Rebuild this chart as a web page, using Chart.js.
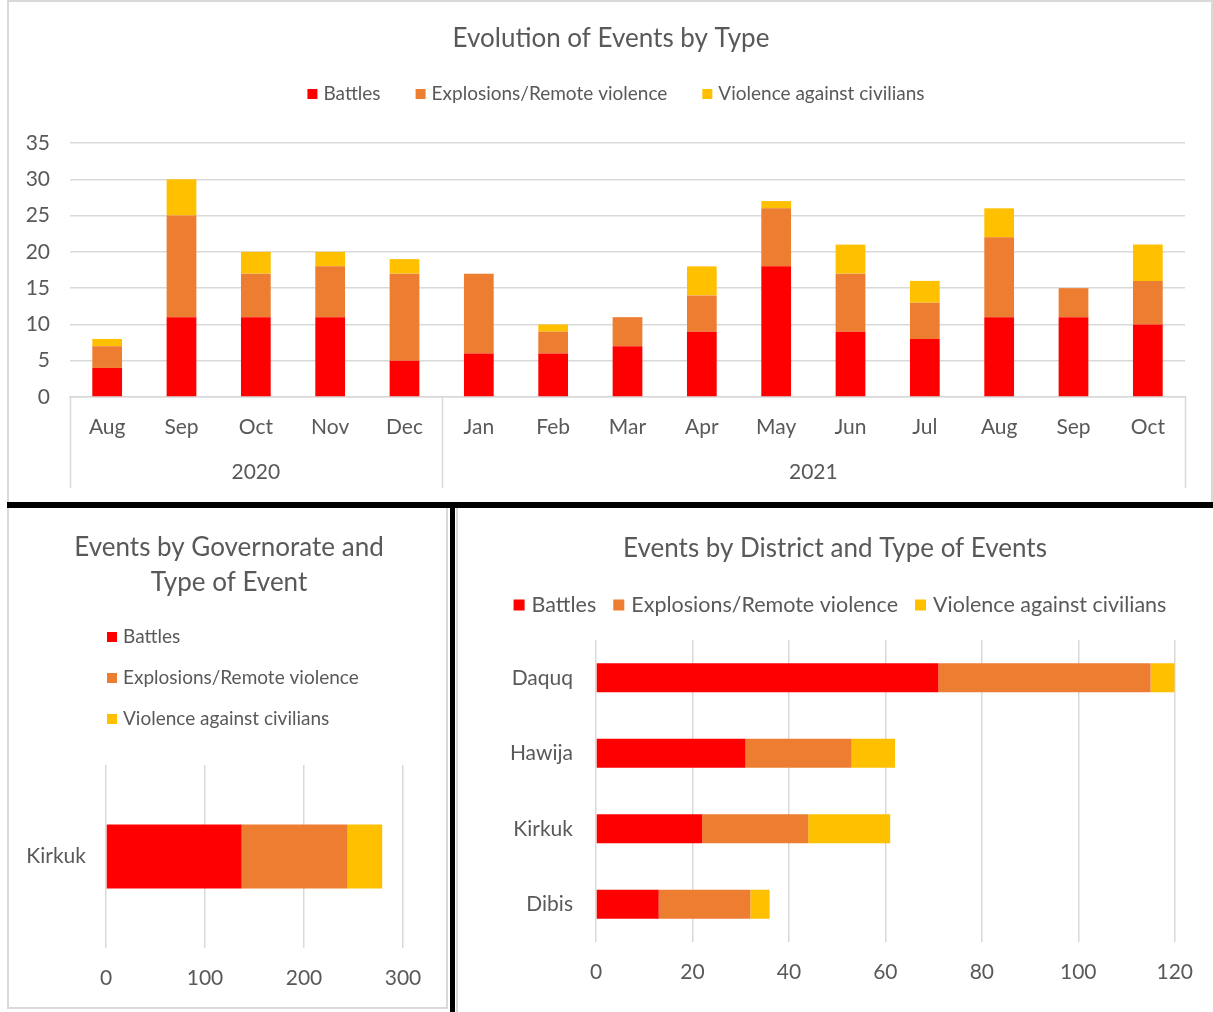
<!DOCTYPE html>
<html>
<head>
<meta charset="utf-8">
<script src="https://cdn.jsdelivr.net/npm/chart.js@4/dist/chart.umd.min.js"></script>
<style>
  html, body { margin: 0; padding: 0; background: #ffffff; }
  body { width: 1213px; height: 1012px; position: relative; overflow: hidden; font-family: Lato, sans-serif; }
  .box { position: absolute; box-sizing: border-box; }
  canvas { position: absolute; }
</style>
</head>
<body>
<div class="box" style="left:7px;top:0;width:1206px;height:503px;border:2px solid #d9d9d9;border-bottom:none;"></div>
<div class="box" style="left:7px;top:508px;width:441px;height:501px;border:2px solid #d9d9d9;border-top:none;"></div>
<div class="box" style="left:456px;top:508px;width:757px;height:504px;border-left:2px solid #d9d9d9;"></div>
<div class="box" style="left:7px;top:502px;width:1206px;height:6px;background:#000;"></div>
<div class="box" style="left:450px;top:505px;width:5px;height:507px;background:#000;"></div>

<canvas id="c1" style="left:9px;top:2px;"></canvas>
<canvas id="c2" style="left:9px;top:510px;"></canvas>
<canvas id="c3" style="left:459px;top:510px;"></canvas>

<script>
// ---------------- DATA ----------------
const seriesNames = ['Battles', 'Explosions/Remote violence', 'Violence against civilians'];

// Evolution of events by type (monthly)
const months = ['Aug', 'Sep', 'Oct', 'Nov', 'Dec', 'Jan', 'Feb', 'Mar', 'Apr', 'May', 'Jun', 'Jul', 'Aug', 'Sep', 'Oct'];
const yearLabels = ['2020', '2021'];
const yearMonthCounts = [5, 10];
const monthlyBattles    = [4, 11, 11, 11, 5, 6, 6, 7, 9, 18, 9, 8, 11, 11, 10];
const monthlyExplosions = [3, 14, 6, 7, 12, 11, 3, 4, 5, 8, 8, 5, 11, 4, 6];
const monthlyViolence   = [1, 5, 3, 2, 2, 0, 1, 0, 4, 1, 4, 3, 4, 0, 5];

// Events by governorate
const governorates = ['Kirkuk'];
const govBattles    = [137];
const govExplosions = [107];
const govViolence   = [35];

// Events by district
const districts = ['Daquq', 'Hawija', 'Kirkuk', 'Dibis'];
const distBattles    = [71, 31, 22, 13];
const distExplosions = [44, 22, 22, 19];
const distViolence   = [5, 9, 17, 4];

// ---------------- STYLE ----------------
const COLORS = ['#FF0000', '#ED7D31', '#FFC000'];
const TEXT = '#595959';
const GRID = '#d9d9d9';
const FONT = 'Lato, "Open Sans", sans-serif';

Chart.defaults.font.family = FONT;
Chart.defaults.color = TEXT;
Chart.defaults.animation = false;

function makeDatasets(arrs) {
  return arrs.map((d, i) => ({
    label: seriesNames[i],
    data: d,
    backgroundColor: COLORS[i],
    borderWidth: 0
  }));
}

const panelTitle = {
  id: 'panelTitle',
  afterDraw(chart, args, o) {
    const ctx = chart.ctx;
    ctx.save();
    ctx.font = o.size + 'px ' + FONT;
    ctx.fillStyle = TEXT;
    ctx.textAlign = 'center';
    ctx.textBaseline = 'middle';
    o.lines.forEach((t, i) => ctx.fillText(t, o.cx, o.y + i * (o.step || 0)));
    ctx.restore();
  }
};

const customLegend = {
  id: 'customLegend',
  afterDraw(chart, args, o) {
    const ctx = chart.ctx;
    ctx.save();
    ctx.font = o.size + 'px ' + FONT;
    ctx.textBaseline = 'middle';
    ctx.textAlign = 'left';
    const items = chart.data.datasets.map(d => ({ label: d.label, color: d.backgroundColor, w: ctx.measureText(d.label).width }));
    if (o.layout === 'row') {
      const total = items.reduce((s, it) => s + o.box + o.gap + it.w, 0) + o.spacing * (items.length - 1);
      let x = o.cx - total / 2;
      items.forEach(it => {
        ctx.fillStyle = it.color;
        ctx.fillRect(x, o.y - o.box / 2, o.box, o.box);
        ctx.fillStyle = TEXT;
        ctx.fillText(it.label, x + o.box + o.gap, o.y);
        x += o.box + o.gap + it.w + o.spacing;
      });
    } else {
      items.forEach((it, i) => {
        const y = o.y + i * o.step;
        ctx.fillStyle = it.color;
        ctx.fillRect(o.x, y - o.box / 2, o.box, o.box);
        ctx.fillStyle = TEXT;
        ctx.fillText(it.label, o.x + o.box + o.gap, y);
      });
    }
    ctx.restore();
  }
};

const groupAxis = {
  id: 'groupAxis',
  afterDraw(chart, args, o) {
    const xs = chart.scales.x, ctx = chart.ctx, area = chart.chartArea;
    const half = (xs.getPixelForValue(1) - xs.getPixelForValue(0)) / 2;
    ctx.save();
    ctx.strokeStyle = GRID;
    ctx.lineWidth = 1.5;
    ctx.font = o.size + 'px ' + FONT;
    ctx.fillStyle = TEXT;
    ctx.textAlign = 'center';
    ctx.textBaseline = 'middle';
    let start = 0;
    const edges = [xs.getPixelForValue(0) - half];
    yearLabels.forEach((lab, g) => {
      const end = start + yearMonthCounts[g] - 1;
      const left = xs.getPixelForValue(start) - half;
      const right = xs.getPixelForValue(end) + half;
      edges.push(right);
      ctx.fillText(lab, (left + right) / 2, o.labelY);
      start = end + 1;
    });
    edges.forEach(x => {
      ctx.beginPath();
      ctx.moveTo(Math.round(x) + 0.5, area.bottom);
      ctx.lineTo(Math.round(x) + 0.5, o.lineBottom);
      ctx.stroke();
    });
    ctx.restore();
  }
};

function sizeCanvas(id, w, h) {
  const c = document.getElementById(id);
  c.width = w; c.height = h;
  c.style.width = w + 'px'; c.style.height = h + 'px';
  return c;
}

// ---------------- CHART 1 ----------------
const c1 = sizeCanvas('c1', 1202, 500);
new Chart(c1, {
  type: 'bar',
  data: { labels: months, datasets: makeDatasets([monthlyBattles, monthlyExplosions, monthlyViolence]) },
  options: {
    responsive: false,
    maintainAspectRatio: false,
    datasets: { bar: { categoryPercentage: 0.8, barPercentage: 0.5 } },
    layout: { padding: { top: 141, left: 0, right: 26, bottom: 0 } },
    plugins: {
      legend: { display: false },
      title: { display: false },
      tooltip: { enabled: false },
      panelTitle: { lines: ['Evolution of Events by Type'], cx: 602, y: 37, size: 26 },
      customLegend: { layout: 'row', cx: 607, y: 92, size: 19, box: 10, gap: 6, spacing: 35 },
      groupAxis: { labelY: 470, lineBottom: 486, size: 21 }
    },
    scales: {
      x: {
        stacked: true,
        grid: { display: false, drawTicks: false },
        border: { display: true, color: GRID, width: 1.5 },
        ticks: { font: { size: 21 }, color: TEXT, padding: 18, maxRotation: 0, autoSkip: false },
        afterFit(s) { s.height = 105; }
      },
      y: {
        stacked: true,
        min: 0, max: 35,
        ticks: { stepSize: 5, font: { size: 21 }, color: TEXT, padding: 20 },
        grid: { color: GRID, lineWidth: 1.5, drawTicks: false },
        border: { display: false },
        afterFit(s) { s.width = 61; }
      }
    }
  },
  plugins: [panelTitle, customLegend, groupAxis]
});

// ---------------- CHART 2 ----------------
const c2 = sizeCanvas('c2', 438, 497);
new Chart(c2, {
  type: 'bar',
  data: { labels: governorates, datasets: makeDatasets([govBattles, govExplosions, govViolence]) },
  options: {
    indexAxis: 'y',
    responsive: false,
    maintainAspectRatio: false,
    datasets: { bar: { categoryPercentage: 0.7, barPercentage: 0.5 } },
    layout: { padding: { top: 255, left: 0, right: 44, bottom: 0 } },
    plugins: {
      legend: { display: false },
      title: { display: false },
      tooltip: { enabled: false },
      panelTitle: { lines: ['Events by Governorate and', 'Type of Event'], cx: 220, y: 38, step: 35, size: 26 },
      customLegend: { layout: 'column', x: 98, y: 127, step: 41, size: 19, box: 10, gap: 6 }
    },
    scales: {
      x: {
        stacked: true,
        min: 0, max: 300,
        ticks: { stepSize: 100, font: { size: 21 }, color: TEXT, padding: 18 },
        grid: { color: GRID, lineWidth: 1.5, drawTicks: false },
        border: { display: false },
        afterFit(s) { s.height = 59; }
      },
      y: {
        stacked: true,
        grid: { display: false, drawTicks: false },
        border: { display: false },
        ticks: { font: { size: 21 }, color: TEXT, padding: 20 },
        afterFit(s) { s.width = 97; }
      }
    }
  },
  plugins: [panelTitle, customLegend]
});

// ---------------- CHART 3 ----------------
const c3 = sizeCanvas('c3', 752, 500);
new Chart(c3, {
  type: 'bar',
  data: { labels: districts, datasets: makeDatasets([distBattles, distExplosions, distViolence]) },
  options: {
    indexAxis: 'y',
    responsive: false,
    maintainAspectRatio: false,
    datasets: { bar: { categoryPercentage: 0.77, barPercentage: 0.5 } },
    layout: { padding: { top: 130, left: 0, right: 35, bottom: 0 } },
    plugins: {
      legend: { display: false },
      title: { display: false },
      tooltip: { enabled: false },
      panelTitle: { lines: ['Events by District and Type of Events'], cx: 376, y: 39, size: 26 },
      customLegend: { layout: 'row', cx: 381, y: 95, size: 21.5, box: 11, gap: 7, spacing: 17 }
    },
    scales: {
      x: {
        stacked: true,
        min: 0, max: 120,
        ticks: { stepSize: 20, font: { size: 21 }, color: TEXT, padding: 18 },
        grid: { color: GRID, lineWidth: 1.5, drawTicks: false },
        border: { display: false },
        afterFit(s) { s.height = 68; }
      },
      y: {
        stacked: true,
        grid: { display: false, drawTicks: false },
        border: { display: false },
        ticks: { font: { size: 21 }, color: TEXT, padding: 23 },
        afterFit(s) { s.width = 137; }
      }
    }
  },
  plugins: [panelTitle, customLegend]
});
</script>
</body>
</html>
